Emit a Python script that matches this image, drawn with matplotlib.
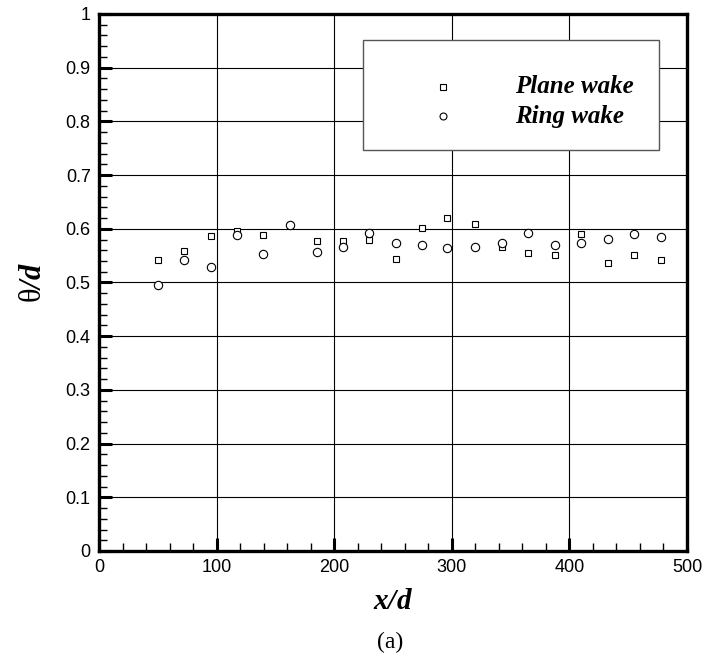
import matplotlib
matplotlib.use("Agg")
import matplotlib.pyplot as plt
from matplotlib.patches import Rectangle
from matplotlib.ticker import MultipleLocator

plt.rcParams["mathtext.fontset"] = "custom"
plt.rcParams["mathtext.rm"] = "Liberation Serif"
plt.rcParams["mathtext.it"] = "Liberation Serif:italic"
plt.rcParams["mathtext.bf"] = "Liberation Serif:bold"
plt.rcParams["mathtext.bfit"] = "Liberation Serif:bold:italic"

# Streamwise stations x/d and momentum thickness theta/d
x_plane = [50, 72.5, 95, 117, 139.5, 162.5, 185, 207.5, 230, 252.5,
           275, 296, 320, 342.5, 365, 387.5, 410, 432.5, 455, 477.5]
plane_wake = [0.541, 0.559, 0.587, 0.595, 0.588, 0.607, 0.577, 0.577, 0.580, 0.544,
              0.601, 0.620, 0.608, 0.566, 0.555, 0.552, 0.590, 0.536, 0.552, 0.541]
x_ring = [50, 72.5, 95, 117, 139.5, 162.5, 185, 207.5, 230, 252.5,
          275, 296, 320, 342.5, 365, 387.5, 410, 432.5, 455, 477.5]
ring_wake = [0.495, 0.541, 0.528, 0.588, 0.553, 0.607, 0.557, 0.566, 0.592, 0.574,
             0.569, 0.564, 0.566, 0.573, 0.593, 0.569, 0.573, 0.581, 0.591, 0.585]

x_ticks = [0, 100, 200, 300, 400, 500]
y_ticks = [0, 0.1, 0.2, 0.3, 0.4, 0.5, 0.6, 0.7, 0.8, 0.9, 1]
series_names = ["Plane wake", "Ring wake"]

fig = plt.figure(figsize=(7.07, 6.62), dpi=100)
ax = fig.add_axes([0.140, 0.1677, 0.8317, 0.8112])

ax.plot(x_plane, plane_wake, ls="none", marker="s", ms=4.6,
        mfc="white", mec="black", mew=0.8, zorder=3)
ax.plot(x_ring, ring_wake, ls="none", marker="o", ms=6.0,
        mfc="white", mec="black", mew=0.8, zorder=3)

ax.set_xlim(0, 500)
ax.set_ylim(0, 1)
ax.set_xticks(x_ticks)
ax.set_yticks(y_ticks)
ax.xaxis.set_minor_locator(MultipleLocator(20))
ax.yaxis.set_minor_locator(MultipleLocator(0.02))
ax.set_xticklabels([str(v) for v in x_ticks])
ax.set_yticklabels(["0"] + ["%.1f" % v for v in y_ticks[1:-1]] + ["1"])

ax.tick_params(which="major", direction="in", length=9.5, width=2.2,
               labelsize=13, pad=6, top=False, right=False)
ax.tick_params(which="minor", direction="in", length=5.5, width=1.0,
               top=False, right=False)
for lbl in ax.get_xticklabels() + ax.get_yticklabels():
    lbl.set_fontfamily("Liberation Sans")

for s in ax.spines.values():
    s.set_linewidth(2.4)

ax.grid(True, which="major", color="black", lw=0.8)
ax.set_axisbelow(True)

ax.set_xlabel(r"$\mathbfit{x/d}$", fontsize=21, labelpad=8)
ax.set_ylabel(r"$\mathrm{\theta}\mathbfit{/d}$", fontsize=22, labelpad=13)

# Legend box
ax.add_patch(Rectangle((0.4495, 0.7467), 0.5035, 0.2049, transform=ax.transAxes,
                       facecolor="white", edgecolor="#555555", lw=1.0, zorder=4))
ax.plot([0.5855], [0.8646], transform=ax.transAxes, ls="none", marker="s", ms=4.0,
        mfc="white", mec="black", mew=0.8, zorder=5, clip_on=False)
ax.plot([0.5855], [0.810], transform=ax.transAxes, ls="none", marker="o", ms=5.0,
        mfc="white", mec="black", mew=0.8, zorder=5, clip_on=False)
for yy, name in zip([0.8646, 0.810], series_names):
    ax.text(0.7075, yy, name, transform=ax.transAxes, ha="left", va="center",
            fontsize=18, fontfamily="Liberation Serif", fontweight="bold",
            fontstyle="italic", zorder=5)

fig.text(0.552, 0.030, "(a)", ha="center", va="center", fontsize=17,
         fontfamily="Liberation Serif")

fig.savefig("out.png", dpi=100)
